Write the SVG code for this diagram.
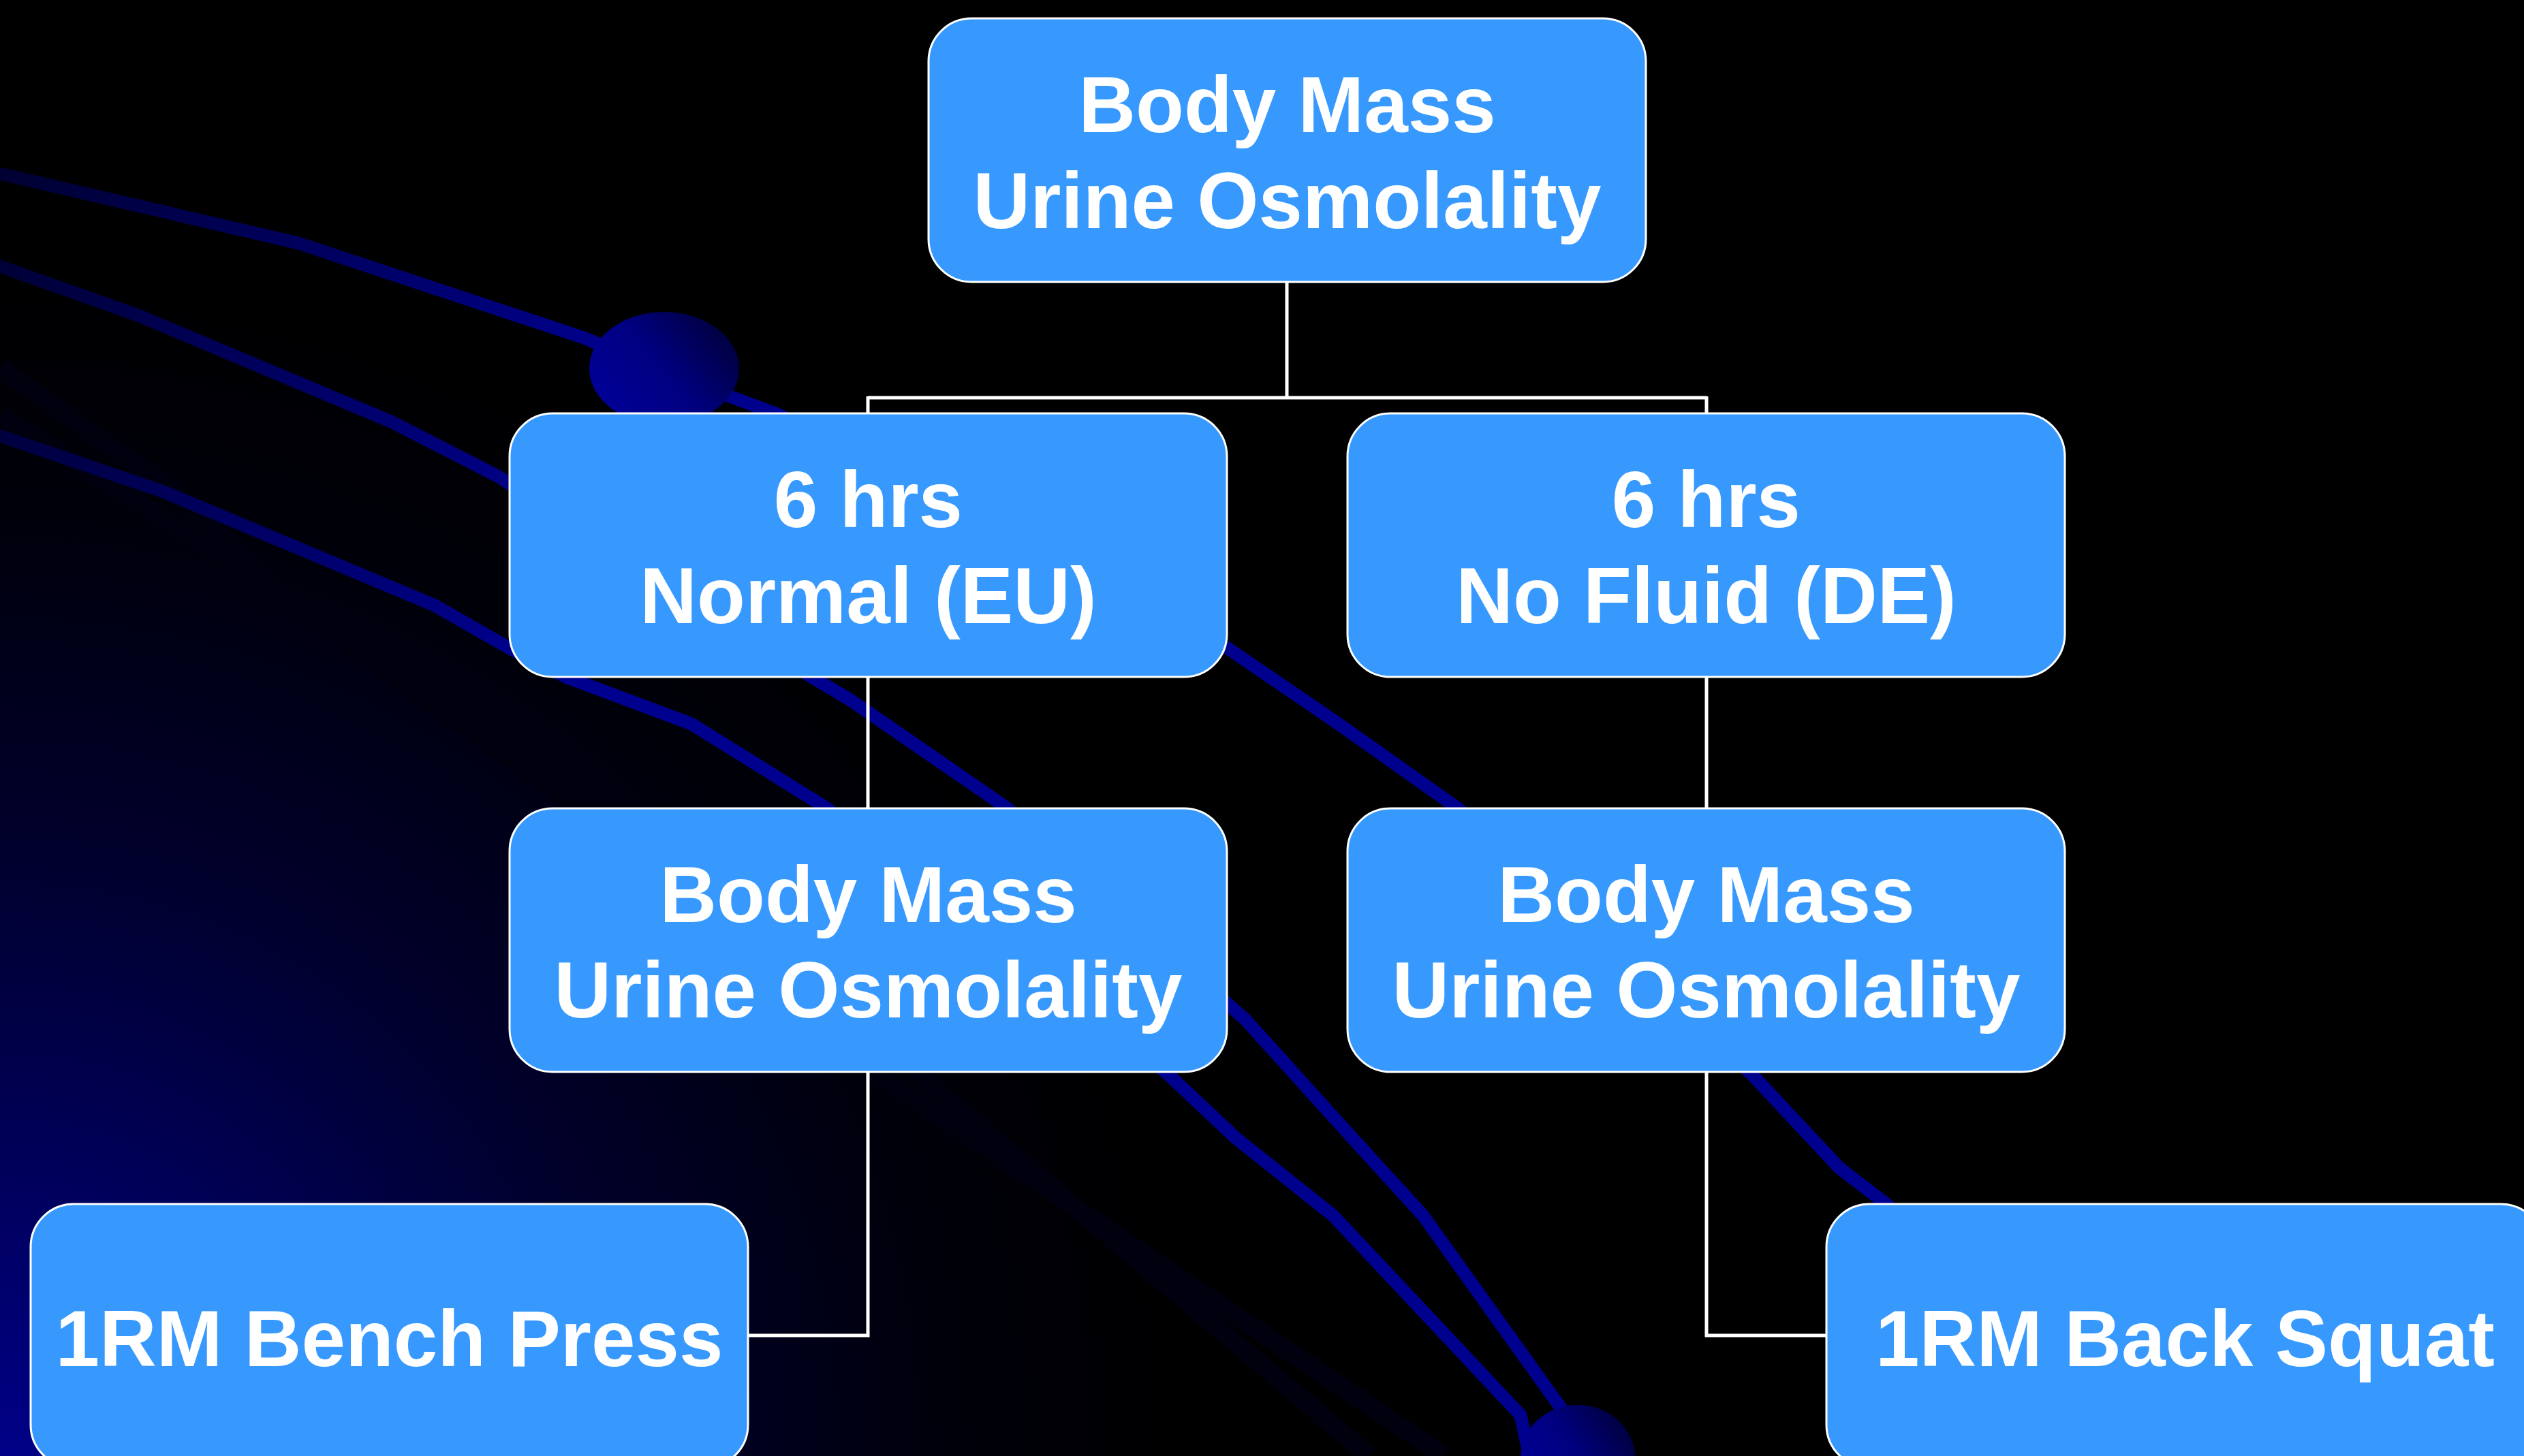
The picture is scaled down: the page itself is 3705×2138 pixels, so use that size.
<svg xmlns="http://www.w3.org/2000/svg" width="3705" height="2138" viewBox="0 0 3705 2138">
<defs>
<radialGradient id="bgGlow" gradientUnits="userSpaceOnUse" cx="0" cy="2138" r="1750">
<stop offset="0" stop-color="#000088"/>
<stop offset="0.2" stop-color="#000062"/>
<stop offset="0.5" stop-color="#00002e"/>
<stop offset="0.8" stop-color="#00000a"/>
<stop offset="1" stop-color="#000000"/>
</radialGradient>
<linearGradient id="lineGrad" gradientUnits="userSpaceOnUse" x1="0" y1="300" x2="900" y2="600">
<stop offset="0" stop-color="#000034"/>
<stop offset="1" stop-color="#00008e"/>
</linearGradient>
<linearGradient id="ballGrad" x1="0" y1="0.8" x2="1" y2="0.2">
<stop offset="0" stop-color="#00009a"/>
<stop offset="0.5" stop-color="#000080"/>
<stop offset="1" stop-color="#000038"/>
</linearGradient>
<style>
.deco{fill:none;stroke:url(#lineGrad);stroke-width:19;stroke-linejoin:round;stroke-linecap:round}
.faint{fill:none;stroke:#00000f;stroke-width:28;stroke-linejoin:round}
.conn{fill:none;stroke:#ffffff;stroke-width:5}
.box{fill:#3799fe;stroke:#ffffff;stroke-width:3}
.lbl{font-family:"Liberation Sans",Arial,sans-serif;font-weight:bold;font-size:116px;fill:#ffffff;text-anchor:middle}
</style>
</defs>
<g id="background">
<rect x="0" y="0" width="3705" height="2138" fill="#000000"/>
<rect x="0" y="0" width="3705" height="2138" fill="url(#bgGlow)"/>
<path class="faint" d="M0,540 L249,717 L447,900 L849,1184 L1284,1575 L2120,2138"/>
<path class="faint" d="M0,610 L300,800 L560,960 L980,1240 L1345,1575 L2010,2138"/>
<path class="deco" d="M0,255 L438,357 L857,496 L975,545 L1071,582 L1143,609 L1801,951 L1962,1061 L2140,1187 L2571,1577 L2700,1715 L2769,1768 L2800,1800"/>
<path class="deco" d="M0,391 L205,464 L576,620 L732,700 L1193,995 L1247,1027 L1479,1187 L1802,1474 L1828,1497 L1967,1651 L2089,1785 L2293,2070 L2316,2138"/>
<path class="deco" d="M0,640 L240,722 L638,889 L750,953 L833,995 L1015,1063 L1214,1187 L1712,1575 L1814,1671 L1957,1785 L2232,2078 L2245,2138"/>
<ellipse cx="975" cy="541" rx="110" ry="83" fill="url(#ballGrad)"/>
<ellipse cx="2316" cy="2140" rx="84" ry="77" fill="url(#ballGrad)"/>
</g>
<g id="connectors">
<path class="conn" d="M1889,414 L1889,584 M1274,584 L2505,584 M1274,582 L1274,607 M2505,582 L2505,607"/>
<path class="conn" d="M1274,993 L1274,1187 M2505,993 L2505,1187"/>
<path class="conn" d="M1274,1575 L1274,1961 L1098,1961 M2505,1573 L2505,1961 L2681,1961"/>
</g>
<g id="node-top">
<rect class="box" x="1363" y="27" width="1053" height="387" rx="63" ry="63"/>
<text class="lbl" x="1889.5" y="194">Body Mass</text>
<text class="lbl" x="1889.5" y="335">Urine Osmolality</text>
</g>
<g id="node-normal">
<rect class="box" x="748" y="607" width="1053" height="387" rx="63" ry="63"/>
<text class="lbl" x="1274.5" y="774">6 hrs</text>
<text class="lbl" x="1274.5" y="915">Normal (EU)</text>
</g>
<g id="node-nofluid">
<rect class="box" x="1978" y="607" width="1053" height="387" rx="63" ry="63"/>
<text class="lbl" x="2504.5" y="774">6 hrs</text>
<text class="lbl" x="2504.5" y="915">No Fluid (DE)</text>
</g>
<g id="node-measure-left">
<rect class="box" x="748" y="1187" width="1053" height="387" rx="63" ry="63"/>
<text class="lbl" x="1274.5" y="1354">Body Mass</text>
<text class="lbl" x="1274.5" y="1494">Urine Osmolality</text>
</g>
<g id="node-measure-right">
<rect class="box" x="1978" y="1187" width="1053" height="387" rx="63" ry="63"/>
<text class="lbl" x="2504.5" y="1354">Body Mass</text>
<text class="lbl" x="2504.5" y="1494">Urine Osmolality</text>
</g>
<g id="node-bench">
<rect class="box" x="45" y="1768" width="1053" height="387" rx="63" ry="63"/>
<text class="lbl" x="571.5" y="2006">1RM Bench Press</text>
</g>
<g id="node-squat">
<rect class="box" x="2681" y="1768" width="1053" height="387" rx="63" ry="63"/>
<text class="lbl" x="3207.5" y="2006">1RM Back Squat</text>
</g>
</svg>
